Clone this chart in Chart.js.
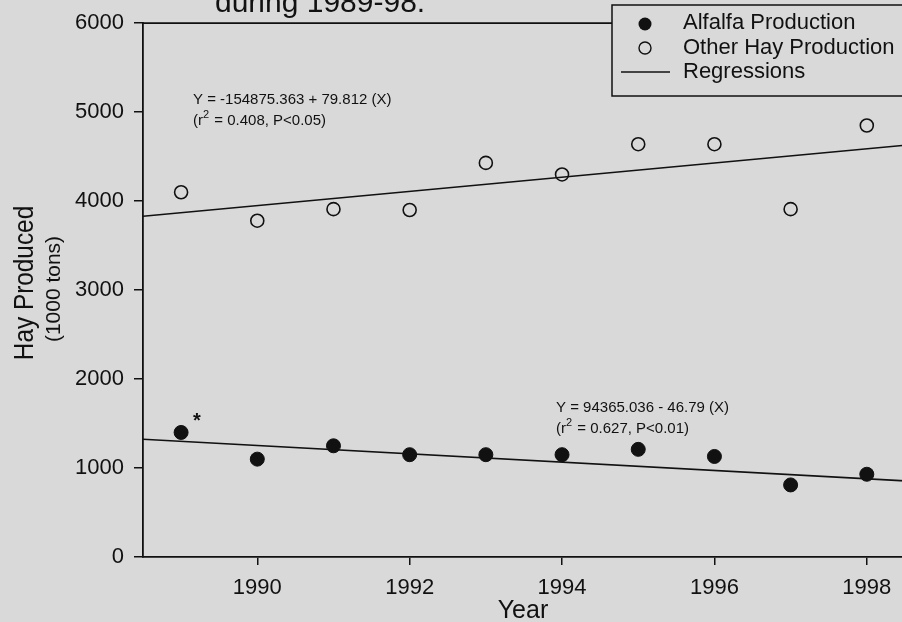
<!DOCTYPE html>
<html>
<head>
<meta charset="utf-8">
<script src="https://cdn.jsdelivr.net/npm/chart.js@4/dist/chart.umd.min.js"></script>
<style>
  html, body { margin: 0; padding: 0; background: #d9d9d9; overflow: hidden; }
  #wrap { width: 913px; height: 622px; }
</style>
</head>
<body>
<div id="wrap"><canvas id="c" width="913" height="622"></canvas></div>
<script>
// Hay production, 1000 tons
const years    = [1989, 1990, 1991, 1992, 1993, 1994, 1995, 1996, 1997, 1998];
const alfalfa  = [1400, 1100, 1250, 1150, 1150, 1150, 1210, 1130, 810, 930];
const otherHay = [4100, 3780, 3910, 3900, 4430, 4300, 4640, 4640, 3910, 4850];

const xTicks = [1990, 1992, 1994, 1996, 1998];
const yTicks = [0, 1000, 2000, 3000, 4000, 5000, 6000];
const xRange = [1988.5, 1998.5];

// Fitted regressions (coefficients as printed on the chart)
const alfalfaFit = { intercept: 94365.036, slope: -46.79 };
const otherFit   = { intercept: -154875.363, slope: 79.812 };

const INK = '#111111';
const BG = '#d9d9d9';
const FONT = 'Arial, "Liberation Sans", sans-serif';

const fitLine = f => xRange.map(x => ({ x, y: f.intercept + f.slope * x }));
const pts = vals => years.map((x, i) => ({ x, y: vals[i] }));

const background = {
  id: 'background',
  beforeDraw(chart) {
    const c = chart.ctx;
    c.save();
    c.fillStyle = BG;
    c.fillRect(0, 0, chart.width, chart.height);
    c.restore();
  }
};

// Frame, titles, regression equations and legend
const decorations = {
  id: 'decorations',
  afterDraw(chart) {
    const c = chart.ctx;
    const a = chart.chartArea;
    c.save();
    c.strokeStyle = INK;
    c.fillStyle = INK;

    // top and right edges of the frame
    c.lineWidth = 1.8;
    c.beginPath();
    c.moveTo(a.left, a.top);
    c.lineTo(a.right, a.top);
    c.lineTo(a.right, a.bottom);
    c.stroke();

    // heading (continues from the line above)
    c.font = `30px ${FONT}`;
    c.textBaseline = 'alphabetic';
    c.textAlign = 'left';
    c.fillText('during 1989-98.', 215, 12);

    // axis titles
    c.textAlign = 'center';
    c.font = `25px ${FONT}`;
    c.fillText('Year', 523, 618);

    c.save();
    c.translate(33, 283);
    c.rotate(-Math.PI / 2);
    c.scale(0.87, 1);
    c.font = `28px ${FONT}`;
    c.fillText('Hay Produced', 0, 0);
    c.restore();

    c.save();
    c.translate(60, 289);
    c.rotate(-Math.PI / 2);
    c.font = `21px ${FONT}`;
    c.fillText('(1000 tons)', 0, 0);
    c.restore();

    // regression equations
    const eq = (x, y, main, r2, p) => {
      c.textAlign = 'left';
      c.textBaseline = 'middle';
      c.font = `15px ${FONT}`;
      c.fillText(main, x, y);
      let cx = x;
      const y2 = y + 21;
      c.fillText('(r', cx, y2);
      cx += c.measureText('(r').width;
      c.font = `11px ${FONT}`;
      c.fillText('2', cx, y2 - 6);
      cx += c.measureText('2').width + 1;
      c.font = `15px ${FONT}`;
      c.fillText(` = ${r2}, P<${p})`, cx, y2);
    };
    eq(193, 100, 'Y = -154875.363 + 79.812 (X)', '0.408', '0.05');
    eq(556, 408, 'Y = 94365.036 - 46.79 (X)', '0.627', '0.01');

    // significance mark on the 1989 alfalfa value
    c.font = `bold 20px ${FONT}`;
    c.textAlign = 'center';
    c.fillText('*', 197, 421);

    // legend box
    c.fillStyle = BG;
    c.fillRect(612, 5, 400, 91);
    c.lineWidth = 1.5;
    c.strokeRect(612, 5, 400, 91);
    c.fillStyle = INK;

    const ds = chart.data.datasets;
    c.beginPath();
    c.arc(645, 24, 6.5, 0, Math.PI * 2);
    c.fill();
    c.beginPath();
    c.lineWidth = 1.4;
    c.arc(645, 48, 6, 0, Math.PI * 2);
    c.stroke();
    c.lineWidth = 1.5;
    c.beginPath();
    c.moveTo(621, 72);
    c.lineTo(670, 72);
    c.stroke();

    c.font = `22px ${FONT}`;
    c.textAlign = 'left';
    c.textBaseline = 'middle';
    c.fillText(ds[0].label, 683, 23);
    c.fillText(ds[1].label, 683, 48);
    c.fillText(ds[2].label, 683, 72);
    c.restore();
  }
};

const axisCommon = {
  grid: { drawOnChartArea: false, drawTicks: true, color: INK, lineWidth: 1.5 },
  border: { display: true, color: INK, width: 1.8 },
};

new Chart(document.getElementById('c'), {
  type: 'scatter',
  data: {
    datasets: [
      {
        label: 'Alfalfa Production',
        data: pts(alfalfa),
        pointRadius: 7,
        pointBackgroundColor: INK,
        pointBorderColor: INK,
        pointBorderWidth: 1,
        order: 1
      },
      {
        label: 'Other Hay Production',
        data: pts(otherHay),
        pointRadius: 6.5,
        pointBackgroundColor: 'rgba(0,0,0,0)',
        pointBorderColor: INK,
        pointBorderWidth: 1.6,
        order: 1
      },
      {
        label: 'Regressions',
        type: 'line',
        data: fitLine(alfalfaFit),
        borderColor: INK,
        borderWidth: 1.6,
        pointRadius: 0,
        fill: false,
        order: 2
      },
      {
        label: 'Regressions',
        type: 'line',
        data: fitLine(otherFit),
        borderColor: INK,
        borderWidth: 1.6,
        pointRadius: 0,
        fill: false,
        order: 2
      }
    ]
  },
  options: {
    responsive: false,
    animation: false,
    devicePixelRatio: 1,
    layout: { padding: { top: 21, right: 1, left: 0, bottom: 0 } },
    plugins: { legend: { display: false }, tooltip: { enabled: false } },
    scales: {
      x: {
        type: 'linear',
        min: xRange[0],
        max: xRange[1],
        afterBuildTicks: s => { s.ticks = xTicks.map(v => ({ value: v })); },
        afterFit: s => { s.height = 65; },
        grid: { ...axisCommon.grid, tickLength: 8 },
        border: axisCommon.border,
        ticks: {
          color: INK,
          font: { family: FONT, size: 22 },
          padding: 10,
          maxRotation: 0,
          autoSkip: false,
          callback: v => String(v)
        }
      },
      y: {
        min: 0,
        max: 6000,
        afterBuildTicks: s => { s.ticks = yTicks.map(v => ({ value: v })); },
        afterFit: s => { s.width = 143; },
        grid: { ...axisCommon.grid, tickLength: 9 },
        border: axisCommon.border,
        ticks: {
          color: INK,
          font: { family: FONT, size: 22 },
          padding: 10,
          callback: v => String(v)
        }
      }
    }
  },
  plugins: [background, decorations]
});
</script>
</body>
</html>
